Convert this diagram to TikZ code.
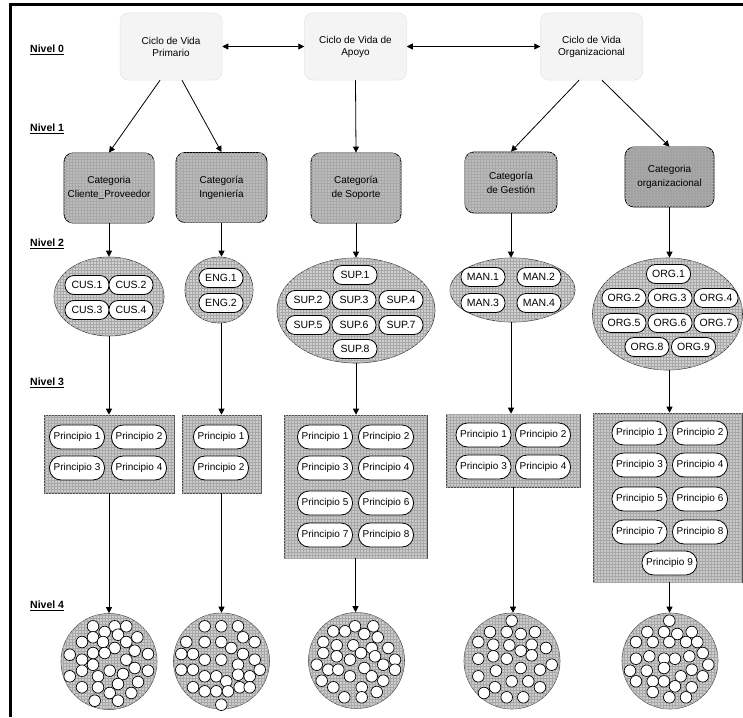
\documentclass[tikz,border=0pt]{standalone}
\usepackage{fontspec}
\setmainfont{Liberation Sans}
\usetikzlibrary{arrows.meta,shapes.geometric,patterns}
\definecolor{lz}{HTML}{F4F4F4}
\definecolor{lzb}{HTML}{E4E4E4}
\definecolor{cat}{HTML}{BBBBBB}
\definecolor{catd}{HTML}{A0A0A0}
\definecolor{ell}{HTML}{D0D0D0}
\definecolor{prn}{HTML}{CACACA}
\definecolor{rnd}{HTML}{CDCDCD}
\definecolor{hatch}{HTML}{A8A8A8}
\begin{document}
\begin{tikzpicture}[x=1pt,y=-1pt,
  tex/.style={postaction={pattern=grid,pattern color=hatch}},
  lvl/.style={anchor=west,inner sep=0pt,font=\bfseries\fontsize{10.5}{12}\selectfont},
  topbox/.style={rectangle,rounded corners=8pt,fill=lz,draw=lzb,line width=0.5pt,minimum width=102pt,minimum height=67pt,inner sep=0pt,align=center,font=\fontsize{10}{12}\selectfont},
  catbox/.style={rectangle,rounded corners=9pt,fill=cat,tex,draw=black,line width=0.8pt,minimum width=90pt,minimum height=70pt,inner sep=0pt,align=center,font=\fontsize{10}{14}\selectfont},
  grp/.style={ellipse,fill=ell,tex,draw=black!80,line width=0.6pt,inner sep=0pt},
  pill/.style={rectangle,rounded corners=9pt,fill=white,draw=black,line width=0.8pt,minimum width=44pt,minimum height=19pt,inner sep=0pt,font=\fontsize{10.5}{12}\selectfont},
  ppill/.style={rectangle,rounded corners=11.5pt,fill=white,draw=black,line width=0.8pt,minimum width=55pt,minimum height=24pt,inner sep=0pt,font=\fontsize{10}{12}\selectfont},
  prbox/.style={rectangle,fill=prn,tex,draw=black!70,line width=0.6pt,inner sep=0pt},
  ball/.style={circle,fill=rnd,tex,draw=black!70,line width=0.6pt,inner sep=0pt,minimum size=96pt},
  conn/.style={-{Triangle[length=6pt,width=6pt]},line width=0.8pt},
  dconn/.style={{Triangle[length=6pt,width=6pt]}-{Triangle[length=6pt,width=6pt]},line width=0.8pt},
  sb/.style={fill=white,draw=black,line width=0.7pt}
]
\useasboundingbox (0,0) rectangle (743,717);
\draw[line width=2.5pt] (10.5,717) -- (10.5,4.5) -- (743,4.5);

% level labels
\node[lvl] (n0) at (30,50) {\underline{Nivel 0}};
\node[lvl] (n1) at (30,129) {\underline{Nivel 1}};
\node[lvl] (n2) at (30,244) {\underline{Nivel 2}};
\node[lvl] (n3) at (30,383) {\underline{Nivel 3}};
\node[lvl] (n4) at (30,606) {\underline{Nivel 4}};

% level 0
\node[topbox] (L0a) at (171,46.5) {Ciclo de Vida\\Primario};
\node[topbox] (L0b) at (355.5,46.5) {Ciclo de Vida de\\Apoyo};
\node[topbox] (L0c) at (591.5,46.5) {Ciclo de Vida\\Organizacional};
\draw[dconn] (L0a) -- (L0b);
\draw[dconn] (L0b) -- (L0c);

% level 1
\node[catbox] (C1) at (109,188) {Categoria\\Cliente\_Proveedor};
\node[catbox,minimum width=91pt] (C2) at (221.5,187.5) {Categoría\\Ingeniería};
\node[catbox] (C3) at (356,188) {Categoría\\de Soporte};
\node[catbox,minimum width=92pt,minimum height=61pt] (C4) at (511,182.5) {Categoría\\de Gestión};
\node[catbox,fill=catd,minimum width=89pt,minimum height=60pt] (C5) at (669.5,177) {Categoria\\organizacional};

\draw[conn] ([xshift=-11pt]L0a.south) -- (C1.north);
\draw[conn] ([xshift=11pt]L0a.south) -- (C2.north);
\draw[conn] (L0b.south) -- (C3.north);
\draw[conn] ([xshift=-12.5pt]L0c.south) -- (C4.north);
\draw[conn] ([xshift=10.5pt]L0c.south) -- (C5.north);

% level 2
\node[grp,minimum width=110pt,minimum height=79pt] (E1) at (109,296.5) {};
\node[grp,minimum width=68pt,minimum height=66pt] (E2) at (219,290) {};
\node[grp,minimum width=158pt,minimum height=105pt] (E3) at (356,310.5) {};
\node[grp,minimum width=125pt,minimum height=64pt] (E4) at (512.5,290) {};
\node[grp,minimum width=150pt,minimum height=112pt] (E5) at (667.5,314) {};

\node[pill] (cus1) at (87,285) {CUS.1};
\node[pill] (cus2) at (131,285) {CUS.2};
\node[pill] (cus3) at (87,310) {CUS.3};
\node[pill] (cus4) at (131,310) {CUS.4};

\node[pill] (eng1) at (221,278) {ENG.1};
\node[pill] (eng2) at (221,303) {ENG.2};

\node[pill] (sup1) at (355,275) {SUP.1};
\node[pill] (sup2) at (308,300) {SUP.2};
\node[pill] (sup3) at (354,300) {SUP.3};
\node[pill] (sup4) at (401,300) {SUP.4};
\node[pill] (sup5) at (308,325) {SUP.5};
\node[pill] (sup6) at (354,325) {SUP.6};
\node[pill] (sup7) at (401,325) {SUP.7};
\node[pill] (sup8) at (355,349) {SUP.8};

\node[pill] (man1) at (483,277) {MAN.1};
\node[pill] (man2) at (539,277) {MAN.2};
\node[pill] (man3) at (483,303) {MAN.3};
\node[pill] (man4) at (539,303) {MAN.4};

\node[pill] (org1) at (668.5,274) {ORG.1};
\node[pill] (org2) at (624,298) {ORG.2};
\node[pill] (org3) at (670,298) {ORG.3};
\node[pill] (org4) at (716,298) {ORG.4};
\node[pill] (org5) at (624,323) {ORG.5};
\node[pill] (org6) at (670,323) {ORG.6};
\node[pill] (org7) at (716,323) {ORG.7};
\node[pill] (org8) at (647,347) {ORG.8};
\node[pill] (org9) at (693.5,347) {ORG.9};

\draw[conn] (C1.south) -- (E1.north);
\draw[conn] (C2.south) -- (C2.south |- E2.north);
\draw[conn] (C3.south) -- (E3.north);
\draw[conn] (C4.south) -- (C4.south |- E4.north);
\draw[conn] (C5.south) -- (C5.south |- E5.north);

% level 3
\node[prbox,minimum width=130pt,minimum height=78pt] (B1) at (109,454) {};
\node[prbox,minimum width=79pt,minimum height=78pt] (B2) at (221.5,454) {};
\node[prbox,minimum width=143pt,minimum height=143pt] (B3) at (355.5,486.5) {};
\node[prbox,minimum width=134pt,minimum height=73pt] (B4) at (513,450.5) {};
\node[prbox,minimum width=149pt,minimum height=169pt] (B5) at (667.5,497.5) {};

\node[ppill] (p11) at (77,437) {Principio 1};
\node[ppill] (p12) at (139,437) {Principio 2};
\node[ppill] (p13) at (77,468) {Principio 3};
\node[ppill] (p14) at (139,468) {Principio 4};

\node[ppill] (p21) at (221,437) {Principio 1};
\node[ppill] (p22) at (221,468) {Principio 2};

\node[ppill] (p31) at (325,437) {Principio 1};
\node[ppill] (p32) at (386,437) {Principio 2};
\node[ppill] (p33) at (325,468) {Principio 3};
\node[ppill] (p34) at (386,468) {Principio 4};
\node[ppill] (p35) at (325,503) {Principio 5};
\node[ppill] (p36) at (386,503) {Principio 6};
\node[ppill] (p37) at (325,535) {Principio 7};
\node[ppill] (p38) at (386,535) {Principio 8};

\node[ppill] (p41) at (483.5,435) {Principio 1};
\node[ppill] (p42) at (543,435) {Principio 2};
\node[ppill] (p43) at (483.5,467) {Principio 3};
\node[ppill] (p44) at (543,467) {Principio 4};

\node[ppill] (p51) at (639.5,433) {Principio 1};
\node[ppill] (p52) at (700,433) {Principio 2};
\node[ppill] (p53) at (639.5,465) {Principio 3};
\node[ppill] (p54) at (700,465) {Principio 4};
\node[ppill] (p55) at (639.5,499) {Principio 5};
\node[ppill] (p56) at (700,499) {Principio 6};
\node[ppill] (p57) at (639.5,532) {Principio 7};
\node[ppill] (p58) at (700,532) {Principio 8};
\node[ppill] (p59) at (669.5,563) {Principio 9};

\draw[conn] (E1.south) -- (E1.south |- B1.north);
\draw[conn] (E2.south -| C2.south) -- (C2.south |- B2.north);
\draw[conn] (E3.south) -- (E3.south |- B3.north);
\draw[conn] (E4.south -| C4.south) -- (C4.south |- B4.north);
\draw[conn] (E5.south -| C5.south) -- (C5.south |- B5.north);

% level 4
\node[ball] (R1) at (109,661.5) {};
\node[ball] (R2) at (221.5,661) {};
\node[ball] (R3) at (356.5,660.5) {};
\node[ball] (R4) at (512,661) {};
\node[ball] (R5) at (670,661) {};

\draw[conn] (B1.south) -- (B1.south |- R1.north);
\draw[conn] (B2.south) -- (B2.south |- R2.north);
\draw[conn] (B3.south) -- (B3.south |- R3.north);
\draw[conn] (B4.south) -- (B4.south |- R4.north);
\draw[conn] (C5.south |- B5.south) -- (C5.south |- R5.north);

\foreach \x/\y in {93/626.3,114.7/626.3,126.3/626.3,104.7/632,118/634.7,93/637.3,137.3/637.3,
  82/642,103/642,126.3/642,114.7/648,134.7/650.7,69.7/654.7,93/653,104.7/653,148/654,
  82/659.7,126.3/659.7,93/664.7,134.7/668,82/670.7,109.7/670.7,148/670.7,69.7/676.3,98/676.3,
  123/674,118/684,138/682,82/687.3,98/687.3,109.7/693,131.3/693,94.7/700.7,118/700.7}
  \draw[sb] (\x,\y) circle (5.8pt);

\foreach \x/\y in {204.7/626.3,221.3/626.3,238/626.3,243/637.3,186.3/642,204.7/642,221.3/642,254.7/642,
  231.3/648,181.3/654,193/654,243/654,204.7/659.7,221.3/659.7,254.7/659.7,238/664.7,
  181.3/669.7,193/669.7,259.7/669.7,238/674.7,204.7/676.3,216.3/676.3,249.7/676.3,226.3/681.3,
  193/687.3,239.7/687.3,249.7/687.3,204.7/691.3,216.3/691.3,228/691.3,221.3/704.7}
  \draw[sb] (\x,\y) circle (5.8pt);

\foreach \x/\y in {355/626.3,373.3/626.3,333.3/631.3,345/631.3,364.3/634,377.7/637.3,323.3/642,
  336.7/645.3,353.3/645.3,371.7/648,388.3/648,323.3/653,361/653,336.7/656.3,375/656.3,
  350/659.7,395/659.7,316.7/664.7,383.3/664.7,364.3/668,328.3/669.7,338.3/669.7,395/669.7,
  350/676.3,371.7/676.3,321.7/680.7,383.3/680.7,333.3/687.3,361.7/687.3,376.7/692,
  344.3/697.3,361.7/697.3}
  \draw[sb] (\x,\y) circle (5.8pt);

\foreach \x/\y in {511.7/620.7,490/632,506.7/632,520.7/634,535/632,478.3/642,493.3/644.7,
  509.3/645.3,531.7/644.7,546/648,520.7/650.7,493.3/656.3,531.7/655.3,478.3/658.7,506.7/658.7,
  551.7/664.7,520.7/668,496/670.7,540/669.7,478.3/676.3,511.7/681.3,528.3/681.3,495/687.3,
  540/687.3,484/693,506.7/697.3,523.3/697.3}
  \draw[sb] (\x,\y) circle (5.8pt);

\foreach \x/\y in {669.3/620.7,647.3/632,664/632,677.3/634,691.7/632,636/642,652.7/642,669.3/642,
  686/642,697.3/642,702.7/653,689.3/656.3,675/658.7,664/658.7,649.3/656.3,636/658.7,
  708.3/664.7,691.7/669.7,664/668,646.7/670.7,630/670.7,680.7/676.3,702.7/676.3,636/681.3,
  652.7/681.3,664/681.3,675/686.3,691.7/687.3,652.7/692,669.3/697.3,686/697.3}
  \draw[sb] (\x,\y) circle (5.8pt);
\end{tikzpicture}
\end{document}
